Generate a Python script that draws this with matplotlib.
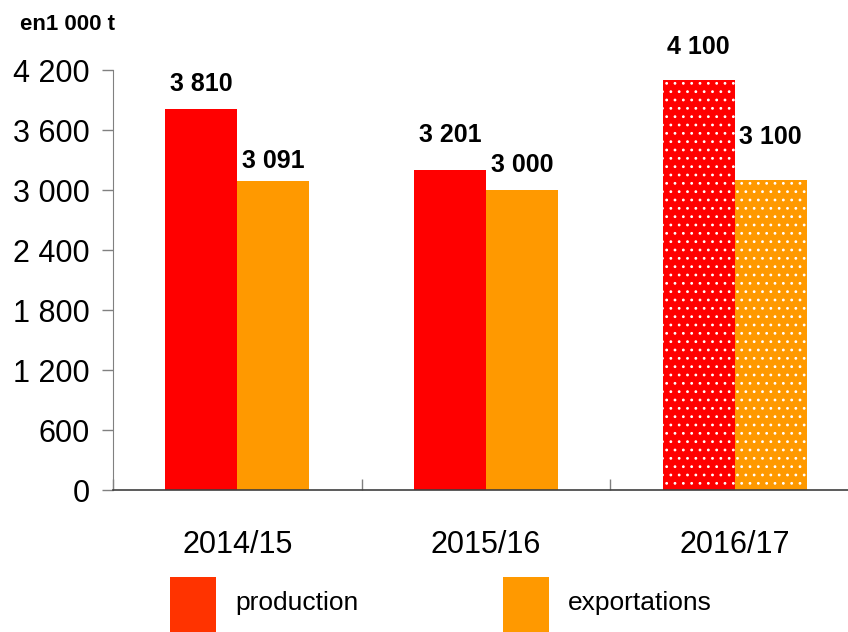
import matplotlib
matplotlib.use('Agg')
import matplotlib.pyplot as plt
from matplotlib.patches import Rectangle
from matplotlib.ticker import FuncFormatter
import numpy as np

# donnees
campagnes = ['2014/15', '2015/16', '2016/17']
production = [3810, 3201, 4100]
exportations = [3091, 3000, 3100]
estimation = [False, False, True]   # derniere campagne en pointille

# decalage vertical des etiquettes (points au-dessus du haut de barre)
decal_prod = [13, 20, 19]
decal_exp = [9, 13, 26]

plt.rcParams['font.family'] = ['Liberation Sans', 'DejaVu Sans']
plt.rcParams['hatch.linewidth'] = 0.8

ROUGE = '#FF0000'
ORANGE = '#FF9900'
GRIS = '#808080'

fig = plt.figure(figsize=(8.48, 6.32), dpi=100)
ax = fig.add_axes([113 / 848, 1 - 490 / 632, 746 / 848, 420 / 632])

x = np.arange(len(campagnes))
w = 0.29

for i in range(len(campagnes)):
    hatch = '..' if estimation[i] else None
    ax.bar(x[i] - w / 2, production[i], w, color=ROUGE, edgecolor='white',
           linewidth=0, hatch=hatch)
    ax.bar(x[i] + w / 2, exportations[i], w, color=ORANGE, edgecolor='white',
           linewidth=0, hatch=hatch)

    ax.annotate(f"{production[i]:,}".replace(',', ' '), (x[i] - w / 2, production[i]),
                xytext=(0, decal_prod[i]), textcoords='offset points',
                ha='center', va='baseline', fontsize=18, fontweight='bold')
    ax.annotate(f"{exportations[i]:,}".replace(',', ' '), (x[i] + w / 2, exportations[i]),
                xytext=(0, decal_exp[i]), textcoords='offset points',
                ha='center', va='baseline', fontsize=18, fontweight='bold')

ax.set_xlim(-0.5, 2.5)
ax.set_ylim(0, 4200)
ax.set_yticks(np.arange(0, 4201, 600))
ax.yaxis.set_major_formatter(FuncFormatter(lambda v, p: f"{int(v):,}".replace(',', ' ')))
ax.tick_params(axis='y', direction='out', length=8, width=1, color=GRIS,
               labelsize=22, pad=9)

# graduations aux limites des categories, libelles au centre
ax.set_xticks(np.arange(-0.5, 2.6, 1.0))
ax.set_xticklabels([])
ax.tick_params(axis='x', which='major', direction='in', length=8, width=1, color=GRIS)
ax.set_xticks(x, minor=True)
ax.set_xticklabels(campagnes, minor=True)
ax.tick_params(axis='x', which='minor', length=0, labelsize=22, pad=29)

for s in ['top', 'right']:
    ax.spines[s].set_visible(False)
ax.spines['left'].set_color(GRIS)
ax.spines['bottom'].set_color('#404040')
ax.spines['bottom'].set_linewidth(1.2)
ax.set_axisbelow(True)

fig.text(20 / 848, 1 - 25 / 632, 'en1 000 t', fontsize=16, fontweight='bold',
         ha='left', va='center')

# legende
legende = [('production', '#FF3300', 170, 235), ('exportations', ORANGE, 503, 568)]
for nom, coul, xc, xt in legende:
    fig.patches.append(Rectangle((xc / 848, 1 - 645 / 632), 46 / 848, 68 / 632,
                                 transform=fig.transFigure, facecolor=coul,
                                 edgecolor='none'))
    fig.text(xt / 848, 1 - 603 / 632, nom, fontsize=19, ha='left', va='center')

fig.savefig('out.png', dpi=100)
